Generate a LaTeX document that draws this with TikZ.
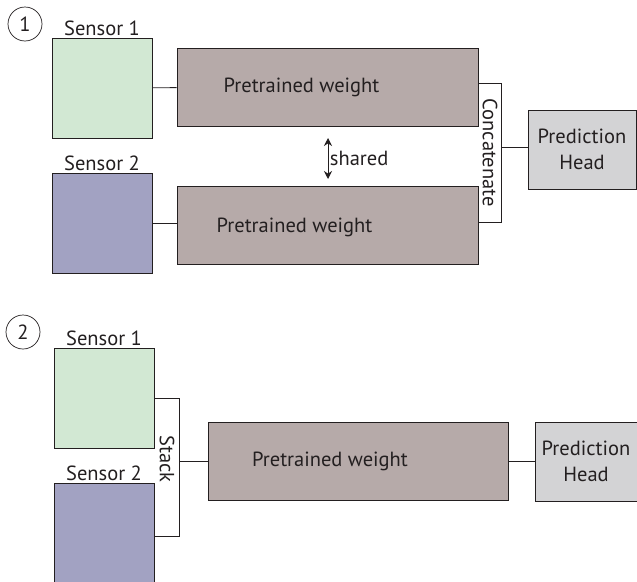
\documentclass[tikz,border=0pt]{standalone}
\usepackage{fontspec}
\setmainfont{PT Sans}
\usepackage{xcolor}
\usetikzlibrary{arrows.meta,positioning,calc}

\definecolor{inkgray}{HTML}{231F20}
\definecolor{sensorgreen}{HTML}{D2E8D3}
\definecolor{sensorblue}{HTML}{A2A2C2}
\definecolor{weightbrown}{HTML}{B6AAA9}
\definecolor{headgray}{HTML}{D3D3D5}

\tikzset{
  sensorbox/.style={draw=inkgray, line width=0.9pt, minimum width=100pt, minimum height=100pt, inner sep=0pt},
  weightbox/.style={draw=inkgray, line width=0.9pt, fill=weightbrown, minimum width=301pt, minimum height=78pt, inner sep=0pt},
  headbox/.style={draw=inkgray, line width=0.9pt, fill=headgray, minimum height=79pt, inner sep=0pt, align=center},
  stepnum/.style={draw=inkgray, line width=0.7pt, circle, minimum size=34pt, inner sep=0pt},
  wire/.style={draw=inkgray, line width=0.9pt}
}

\begin{document}
\begin{tikzpicture}[x=1pt, y=-1pt, font=\fontsize{20.5}{26}\selectfont, text=inkgray]
  \useasboundingbox (0,0) rectangle (637,581);

  % ---- Variante 1: zwei Sensoren, geteilte Gewichte
  \node[stepnum] (num1) at (25,24) {1};

  \node[sensorbox, fill=sensorgreen, label={[yshift=-2pt]above:Sensor 1}] (s1a) at (102,88) {};
  \node[sensorbox, fill=sensorblue, label={[yshift=-2pt]above:Sensor 2}] (s2a) at (102,223) {};

  \node[weightbox, label={[xshift=-26pt]center:Pretrained weight}] (pw1) at (327.5,87) {};
  \node[weightbox, label={[xshift=-33pt, yshift=-2pt]center:Pretrained weight}] (pw2) at (327.5,225.5) {};

  \draw[wire] (s1a) -- (pw1);
  \draw[wire] (s2a.east) -- (s2a.east -| pw2.west);

  % geteilte Gewichte
  \coordinate (sh1) at (328,138);
  \coordinate (sh2) at (328,179);
  \draw[wire, {Stealth[length=8pt,width=8pt]}-{Stealth[length=8pt,width=8pt]}] (sh1) -- (sh2)
    node[midway, right, inner sep=1.5pt] {shared};

  % Concatenate-Klammer
  \coordinate (cat1) at ($(pw1.east)+(23,-4)$);
  \coordinate (cat2) at ($(pw2.east)+(23,-3)$);
  \draw[wire] (pw1.east |- cat1) -- (cat1) -- (cat2) -- (pw2.east |- cat2);
  \node[rotate=-90, inner sep=0pt] (cat) at ($(cat1)!0.5!(cat2)+(-11.5,0)$) {Concatenate};

  \node[headbox, minimum width=108pt] (head1) at (582,149.5) {Prediction\\Head};
  \draw[wire] ($(cat1)!0.46!(cat2)$) -- (head1.west |- {$(cat1)!0.46!(cat2)$});

  % ---- Variante 2: Sensoren gestapelt
  \node[stepnum] (num2) at (23,332) {2};

  \node[sensorbox, fill=sensorgreen, label={[yshift=-2pt]above:Sensor 1}] (s1b) at (104,398) {};
  \node[sensorbox, fill=sensorblue, label={[yshift=-2pt]above:Sensor 2}] (s2b) at (104,533) {};

  % Stack-Klammer
  \coordinate (stk1) at ($(s1b.east)+(25,0)$);
  \coordinate (stk2) at ($(s2b.east)+(25,3)$);
  \draw[wire] (s1b.east) -- (stk1) -- (stk2) -- (s2b.east |- stk2);
  \node[rotate=-90, inner sep=0pt] (stk) at (167,459) {Stack};

  \node[weightbox, minimum width=300pt, label={[xshift=-28pt]center:Pretrained weight}] (pw3) at (358,461) {};
  \draw[wire] (stk1 |- pw3.west) -- (pw3.west);

  \node[headbox, minimum width=102pt] (head2) at (586,461.5) {Prediction\\Head};
  \draw[wire] (pw3.east |- head2.west) -- (head2.west);
\end{tikzpicture}
\end{document}
